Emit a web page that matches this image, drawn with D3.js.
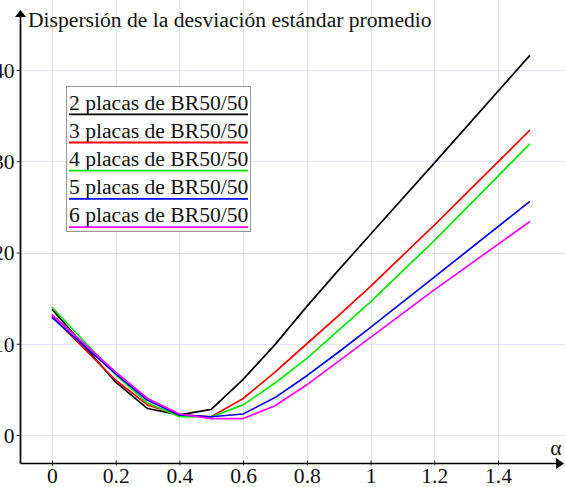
<!DOCTYPE html>
<html>
<head>
<meta charset="utf-8">
<script src="https://cdn.jsdelivr.net/npm/d3@7"></script>
<style>
  html, body { margin: 0; padding: 0; background: #fff; }
  svg { display: block; font-family: "Liberation Serif", "Times New Roman", serif; }
</style>
</head>
<body>
<svg id="chart" width="565" height="487"></svg>
<script>
// alpha sample positions
const alphas = [0, 0.2, 0.3, 0.4, 0.5, 0.6, 0.7, 0.8, 0.9, 1.0, 1.2, 1.5];

// mean standard-deviation dispersion for each plate count
const placas2 = [13.8, 5.8, 2.9, 2.2, 2.8, 6.1, 9.9, 14.1, 18.1, 22.0, 29.8, 41.6];
const placas3 = [13.0, 6.0, 3.3, 2.2, 2.0, 4.0, 6.9, 10.0, 13.1, 16.3, 23.0, 33.4];
const placas4 = [14.0, 6.6, 3.5, 2.0, 2.0, 3.3, 5.7, 8.4, 11.5, 14.6, 21.3, 31.9];
const placas5 = [12.9, 6.7, 3.8, 2.2, 2.0, 2.3, 4.1, 6.5, 9.1, 11.8, 17.3, 25.6];
const placas6 = [13.2, 6.9, 4.0, 2.3, 1.8, 1.8, 3.2, 5.5, 8.1, 10.7, 15.9, 23.4];

const seriesNames = ["2 placas de BR50/50", "3 placas de BR50/50", "4 placas de BR50/50",
                     "5 placas de BR50/50", "6 placas de BR50/50"];
const seriesColors = ["#000000", "#ff0000", "#00e800", "#0000ff", "#ff00ff"];

const xTicks = [0, 0.2, 0.4, 0.6, 0.8, 1, 1.2, 1.4];
const yTicks = [0, 10, 20, 30, 40];

const title = "Dispersión de la desviación estándar promedio";
const xLabel = "α";

const seriesValues = [placas2, placas3, placas4, placas5, placas6];
const series = seriesNames.map((name, i) => ({
  name,
  color: seriesColors[i],
  points: alphas.map((a, j) => [a, seriesValues[i][j]])
}));

const W = 565, H = 487;
const svg = d3.select("#chart");

const x = d3.scaleLinear().domain([0, 1.4]).range([52, 498]);
const y = d3.scaleLinear().domain([0, 40]).range([435, 70]);

const axisX = 20.5;   // vertical axis position
const axisY = 463.5;  // horizontal axis position
const FS = 21.6;
const textColor = "#111";
const gridColor = "#e2e2fb";

// grid
const grid = svg.append("g");
grid.selectAll("line.v").data(xTicks).join("line")
  .attr("x1", d => Math.round(x(d)) + 0.5).attr("x2", d => Math.round(x(d)) + 0.5)
  .attr("y1", 0).attr("y2", axisY)
  .attr("stroke", gridColor).attr("stroke-width", 1);
grid.selectAll("line.h").data(yTicks).join("line")
  .attr("x1", axisX).attr("x2", W)
  .attr("y1", d => Math.round(y(d)) + 0.5).attr("y2", d => Math.round(y(d)) + 0.5)
  .attr("stroke", gridColor).attr("stroke-width", 1);

// curves
const line = d3.line().x(d => x(d[0])).y(d => y(d[1]));
svg.append("g").selectAll("path").data(series).join("path")
  .attr("d", d => line(d.points))
  .attr("fill", "none")
  .attr("stroke", d => d.color)
  .attr("stroke-width", 1.7)
  .attr("stroke-linejoin", "round");

// axes
const fmt = d => String(+d.toFixed(1));
const gx = svg.append("g").attr("transform", `translate(0,${axisY})`)
  .call(d3.axisBottom(x).tickValues(xTicks).tickFormat(fmt).tickSize(3).tickPadding(3));
const gy = svg.append("g").attr("transform", `translate(${axisX},0)`)
  .call(d3.axisLeft(y).tickValues(yTicks).tickSize(4).tickPadding(2));

[gx, gy].forEach(g => {
  g.select(".domain").remove();
  g.selectAll("text").attr("font-family", "Liberation Serif, serif")
    .attr("font-size", FS).attr("fill", textColor);
  g.selectAll(".tick line").attr("stroke", "#333");
});
gx.selectAll(".tick line").attr("y1", -3).attr("y2", 2);
gx.selectAll("text").attr("dy", "0.62em");
gy.selectAll("text").attr("dy", "0.34em");

// axis lines with arrow heads
svg.append("line").attr("x1", axisX).attr("x2", axisX).attr("y1", axisY).attr("y2", 14)
  .attr("stroke", "#000").attr("stroke-width", 1.7);
svg.append("path")
  .attr("d", `M${axisX},10 L${axisX - 5.5},17 L${axisX + 5.5},17 Z`).attr("fill", "#000");
svg.append("line").attr("x1", axisX).attr("x2", 558).attr("y1", axisY).attr("y2", axisY)
  .attr("stroke", "#000").attr("stroke-width", 1.7);
svg.append("path")
  .attr("d", `M564,${axisY} L556,${axisY - 5.5} L556,${axisY + 5.5} Z`).attr("fill", "#000");

// title and axis label
svg.append("text").attr("x", 28).attr("y", 27).attr("font-size", FS)
  .attr("fill", textColor).text(title);
svg.append("text").attr("x", 556).attr("y", 455).attr("text-anchor", "middle")
  .attr("font-size", FS).attr("fill", textColor).text(xLabel);

// legend
const legend = svg.append("g");
legend.append("rect").attr("x", 66.5).attr("y", 86.5).attr("width", 184).attr("height", 145)
  .attr("fill", "#fff").attr("stroke", "#999").attr("stroke-width", 1);
const rowH = 28.2;
const rows = legend.selectAll("g.row").data(series).join("g")
  .attr("transform", (d, i) => `translate(0,${i * rowH})`);
rows.append("text").attr("x", 69).attr("y", 109.5).attr("font-size", FS)
  .attr("fill", textColor).text(d => d.name);
rows.append("line").attr("x1", 69).attr("x2", 248).attr("y1", 114.3).attr("y2", 114.3)
  .attr("stroke", d => d.color).attr("stroke-width", 1.8);
</script>
</body>
</html>
